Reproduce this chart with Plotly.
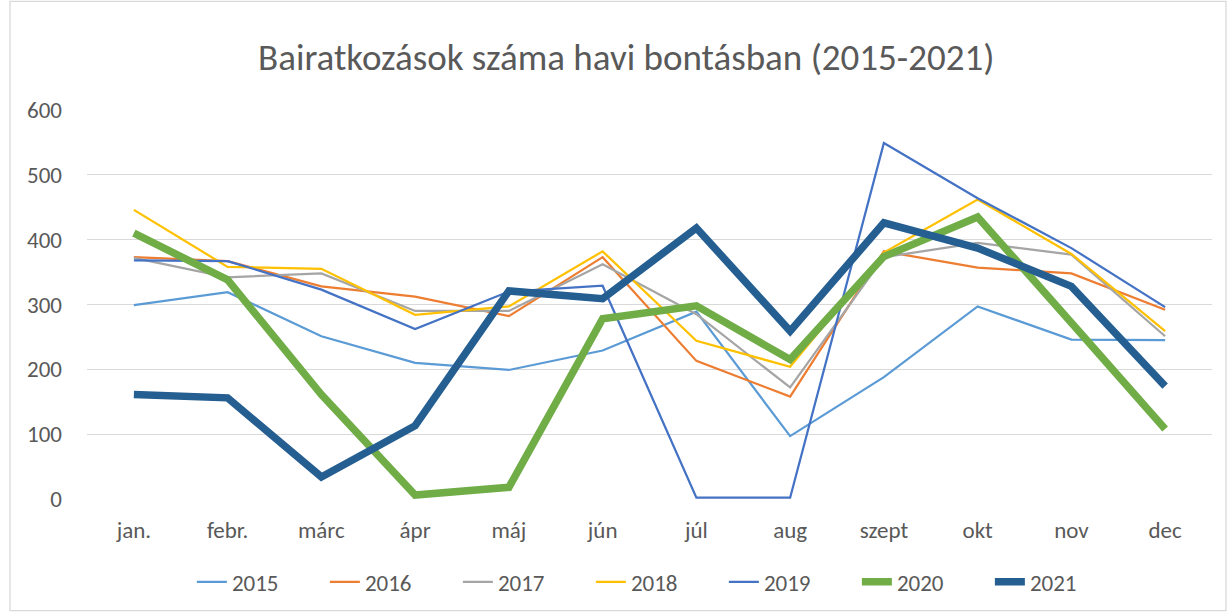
import plotly.graph_objects as go

months = ["jan.", "febr.", "márc", "ápr", "máj", "jún", "júl", "aug", "szept", "okt", "nov", "dec"]

y2015 = [299, 319, 251, 210, 199, 229, 289, 97, 188, 297, 246, 245]
y2016 = [373, 367, 328, 312, 282, 373, 213, 158, 382, 357, 348, 292]
y2017 = [372, 342, 348, 290, 290, 362, 285, 172, 373, 395, 377, 251]
y2018 = [446, 358, 355, 284, 297, 382, 244, 204, 380, 462, 378, 259]
y2019 = [368, 367, 323, 262, 320, 329, 2, 2, 549, 464, 387, 296]
y2020 = [410, 338, 161, 6, 18, 278, 298, 215, 374, 435, 272, 108]
y2021 = [161, 156, 34, 113, 321, 309, 418, 259, 426, 387, 328, 174]

series = [
    ("2015", y2015, "#5B9BD5", 2.25),
    ("2016", y2016, "#ED7D31", 2.25),
    ("2017", y2017, "#A5A5A5", 2.25),
    ("2018", y2018, "#FFC000", 2.25),
    ("2019", y2019, "#4472C4", 2.25),
    ("2020", y2020, "#70AD47", 7.5),
    ("2021", y2021, "#255E91", 7.5),
]

fig = go.Figure()
for name, vals, color, w in series:
    fig.add_trace(go.Scatter(x=months, y=vals, name=name, mode="lines",
                             line=dict(color=color, width=w)))

font_family = "Carlito, Lato, 'Open Sans', sans-serif"
W, H = 1228, 614
ml, mr, mt, mb = 87, 16, 110, 114
pw, ph = W - ml - mr, H - mt - mb

def px(x):
    return (x - ml) / pw

def py(y):
    return (H - mb - y) / ph

fig.update_layout(
    width=W, height=H,
    margin=dict(l=ml, r=mr, t=mt, b=mb),
    paper_bgcolor="white", plot_bgcolor="white",
    font=dict(family=font_family, color="#595959", size=23),
    title=dict(text="Bairatkozások száma havi bontásban (2015-2021)",
               x=0.51, xref="container", xanchor="center",
               y=1 - 57 / H, yref="container", yanchor="middle",
               font=dict(size=37, color="#595959", family=font_family)),
    xaxis=dict(showgrid=False, zeroline=False, showline=False, ticks="",
               range=[-0.5, 11.5],
               tickfont=dict(size=23, color="#595959"), ticklabelstandoff=15),
    yaxis=dict(range=[0, 600], dtick=100, showgrid=True, gridcolor="#D9D9D9",
               gridwidth=1.3, zeroline=False, showline=False, ticks="",
               tickfont=dict(size=23, color="#595959"), ticklabelstandoff=24),
    legend=dict(orientation="h", x=0.507, xanchor="center", y=-0.21, yanchor="middle",
                font=dict(size=23, color="#595959"),
                entrywidth=88, entrywidthmode="pixels",
                bgcolor="rgba(0,0,0,0)"),
    shapes=[dict(type="rect", xref="paper", yref="paper",
                 x0=px(10), x1=px(1226), y0=py(612), y1=py(1),
                 line=dict(color="#D9D9D9", width=1.3), fillcolor="rgba(0,0,0,0)",
                 layer="below")],
)

fig.write_html("out.html", config={"displayModeBar": False},
               post_script="document.body.style.margin='0';document.body.style.padding='0';")
